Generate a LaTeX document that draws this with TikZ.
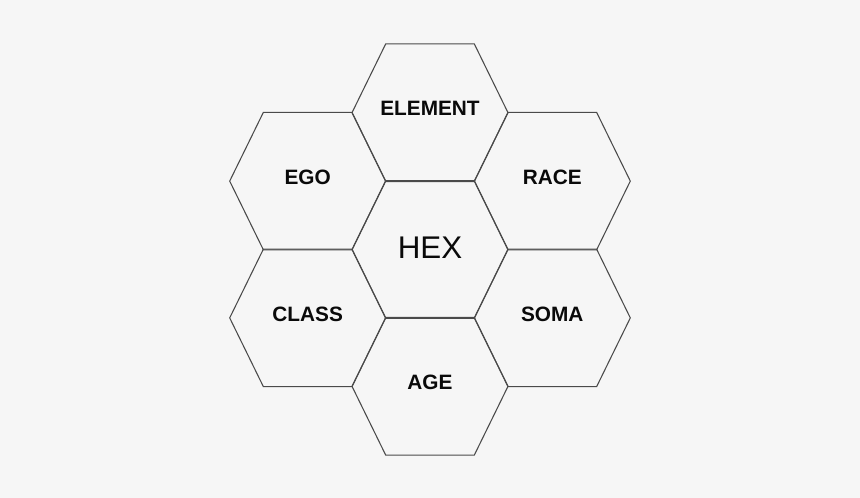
\documentclass[tikz,border=0pt]{standalone}
\usepackage{fontspec}
\setmainfont{Liberation Sans}
\usetikzlibrary{positioning}

\definecolor{paper}{HTML}{F6F6F6}
\definecolor{edgegray}{HTML}{4A4A4A}
\definecolor{inkblack}{HTML}{0A0A0A}

\begin{document}
\begin{tikzpicture}[x=0.75pt, y=-0.75pt, style={
  cell/.style={
    draw=edgegray,
    line width=0.8pt,
    line join=miter,
  },
  cellname/.style={
    inner sep=0pt,
    text=inkblack,
    font=\bfseries\fontsize{15.6}{18}\selectfont,
  },
  hubname/.style={
    cellname,
    font=\fontsize{23.5}{28}\selectfont,
  },
}]
\fill[paper] (0,0) rectangle (860,498);
\useasboundingbox (0,0) rectangle (860,498);
% one cell: half width 78, half top edge 44.3, half height 68.8
\def\hexpath{(-78,0) -- (-44.3,-68.8) -- (44.3,-68.8) -- (78,0)
  -- (44.3,68.8) -- (-44.3,68.8) -- cycle}
\foreach \cx/\cy in {430/249.5, 430/112.7, 430/386.3,
                     307.7/181.1, 552.3/181.1, 307.7/317.9, 552.3/317.9}
  \draw[cell, shift={(\cx,\cy)}] \hexpath;
\draw[]
  node[hubname] (hex) at (430,248) {HEX}
  node[cellname] (element) at (430,108.7) {ELEMENT}
  node[cellname] (ego) at (307.7,177.1) {EGO}
  node[cellname] (race) at (552.3,177.1) {RACE}
  node[cellname] (class) at (307.7,313.9) {CLASS}
  node[cellname] (soma) at (552.3,313.9) {SOMA}
  node[cellname] (age) at (430,382.3) {AGE}
;
\end{tikzpicture}
\end{document}
